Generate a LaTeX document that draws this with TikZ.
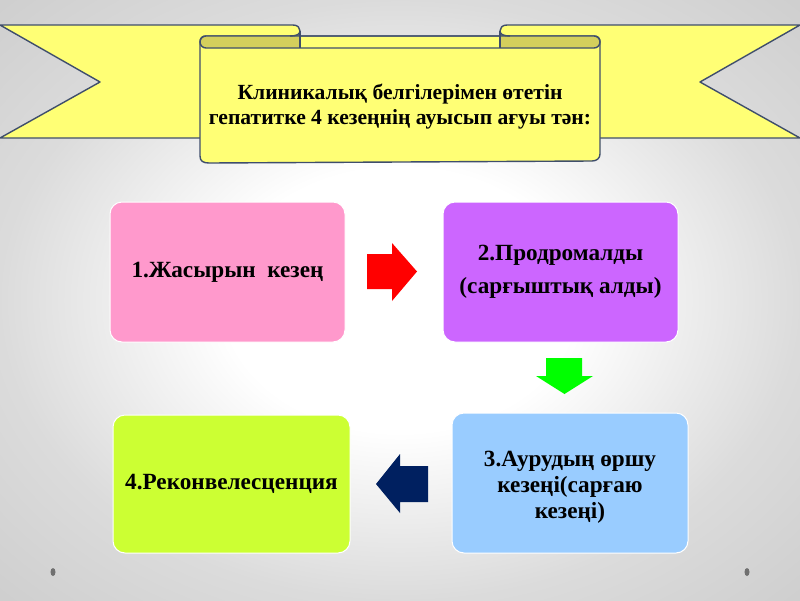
\documentclass[tikz,border=0pt]{standalone}
\usepackage{fontspec}
\setmainfont{Liberation Serif}
\definecolor{ribY}{HTML}{FFFF75}
\definecolor{ribD}{HTML}{D4CF5C}
\definecolor{ribL}{HTML}{3F4E6C}
\definecolor{pinkB}{HTML}{FF99CC}
\definecolor{purpB}{HTML}{CC66FF}
\definecolor{blueB}{HTML}{99CCFF}
\definecolor{limeB}{HTML}{CCFF33}
\definecolor{navyA}{HTML}{002060}
\definecolor{dotG}{HTML}{707070}
\pgfdeclareradialshading{bgshade}{\pgfpoint{0bp}{0bp}}{color(0bp)=(white); color(11bp)=(white); color(25bp)=(black!14); color(50bp)=(black!26)}
\begin{document}
\begin{tikzpicture}[x=1pt,y=-1pt]
\tikzset{
  ribbon/.style={fill=ribY, draw=ribL, line width=1.4pt, line join=round},
  ribline/.style={draw=ribL, line width=1.4pt, line join=round},
  stagebox/.style={rounded corners=12pt, draw=white, line width=1pt, text=black,
     font=\bfseries\fontsize{23.2}{26}\selectfont, align=center, inner sep=0pt},
  stagetext/.style={text=black, font=\bfseries\fontsize{23.2}{26}\selectfont, align=center, inner sep=0pt},
  bannertext/.style={text=black, font=\bfseries\fontsize{21.6}{25}\selectfont, align=center, inner sep=0pt},
  dotmark/.style={fill=dotG, draw=none}
}
% background
\shade[shading=bgshade] (0,0) rectangle (800,600);
\useasboundingbox (0,0) rectangle (800,600);

% back ribbons
\path[ribbon] (0,25) -- (293,25) .. controls (298,25) and (300,28) .. (300,31) -- (300,138) -- (0,138) -- (100,82) -- cycle;
\path[ribbon] (800,25) -- (507,25) .. controls (502,25) and (500,28) .. (500,31) -- (500,138) -- (800,138) -- (700,82) -- cycle;

% front panel
\path[ribbon] (200,42) -- (200,156) .. controls (200,161) and (203,163) .. (209,163)
  -- (592,161) .. controls (597,161) and (600,158) .. (600,154) -- (600,42)
  .. controls (600,38) and (598,36) .. (594,36) -- (206,36) .. controls (202,36) and (200,38) .. (200,42) -- cycle;
\begin{scope}
  \clip (190,28) rectangle (300,52);
  \fill[ribD, rounded corners=6pt] (200,36) rectangle (600,48);
\end{scope}
\begin{scope}
  \clip (500,28) rectangle (610,52);
  \fill[ribD, rounded corners=6pt] (200,36) rectangle (600,48);
\end{scope}
\draw[ribline] (300,31) -- (300,48);
\draw[ribline] (500,31) -- (500,48);
\draw[ribline] (300,31) .. controls (300,34) and (297,36) .. (290,36);
\draw[ribline] (500,31) .. controls (500,34) and (503,36) .. (510,36);
\draw[ribline, rounded corners=6pt] (200,36) rectangle (600,48);

\node[bannertext] (title) at (400,107) {Клиникалық белгілерімен өтетін\\гепатитке 4 кезеңнің ауысып ағуы тән:};

% stage boxes
\node[stagebox, fill=pinkB, minimum width=235pt, minimum height=140pt] (b1) at (227.5,272) {1.Жасырын\ \ кезең};
\node[stagebox, fill=purpB, minimum width=235pt, minimum height=140pt, font=\bfseries\fontsize{23.2}{33}\selectfont] (b2) at (560.5,272) {2.Продромалды\\(сарғыштық алды)};
\node[stagebox, fill=blueB, minimum width=236pt, minimum height=140pt] (b3) at (570,483) {};
\node[stagetext] (b3t) at (570,487) {3.Аурудың өршу\\кезеңі(сарғаю\\кезеңі)};
\node[stagebox, fill=limeB, minimum width=237pt, minimum height=138pt] (b4) at (231.5,484) {4.Реконвелесценция};

% block arrows
\fill[red] (367,254) -- (392,254) -- (392,243) -- (417,271.5) -- (392,301) -- (392,289) -- (367,289) -- cycle;
\fill[green] (546,358) -- (582,358) -- (582,376) -- (593,376) -- (564.5,394) -- (536,376) -- (546,376) -- cycle;
\fill[navyA] (428,466) -- (400,466) -- (400,454) -- (376,484) -- (400,513) -- (400,502) -- (428,502) -- cycle;

% dots
\fill[dotmark] (53,572) ellipse (2.5pt and 4pt);
\fill[dotmark] (747,572) ellipse (2.5pt and 4pt);
\end{tikzpicture}
\end{document}
